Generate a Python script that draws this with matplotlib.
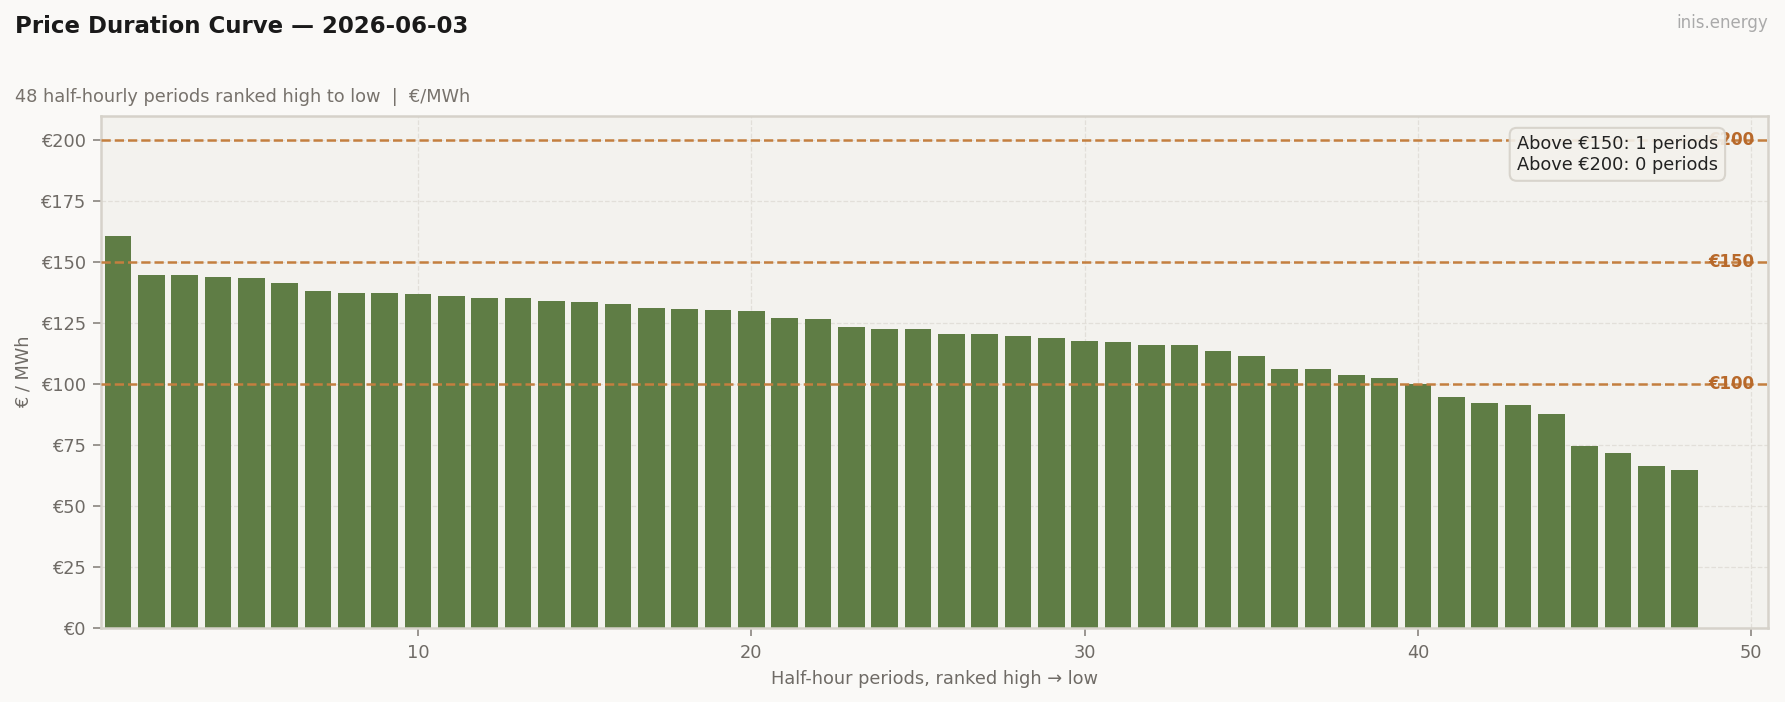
import matplotlib
matplotlib.use('Agg')
import numpy as np
import matplotlib.pyplot as plt
import matplotlib.transforms as mtransforms
from matplotlib.ticker import FuncFormatter, MultipleLocator

# half-hourly prices, ranked high -> low (EUR/MWh)
prices = [160.9, 144.7, 144.7, 143.9, 143.5, 141.4, 138.1, 137.3, 137.3, 136.9,
          136.1, 135.3, 135.3, 134.0, 133.6, 132.8, 131.2, 130.7, 130.3, 129.9,
          127.4, 126.6, 123.7, 122.9, 122.5, 120.8, 120.8, 120.0, 119.2, 117.9,
          117.5, 116.3, 116.3, 113.8, 111.8, 106.4, 106.4, 104.0, 102.7, 100.1,
          95.0, 92.5, 91.7, 88.0, 74.9, 72.0, 66.7, 65.1]
thresholds = [100, 150, 200]
rank = np.arange(1, len(prices) + 1)

fig = plt.figure(figsize=(11.9, 4.68), dpi=150, facecolor='#faf9f7')
ax = fig.add_axes([0.0568, 0.1048, 0.9337, 0.7300])
ax.set_facecolor('#f3f2ee')
ax.set_axisbelow(True)

ax.bar(rank, prices, width=0.8, color='#5f7d45', zorder=2)

trans = mtransforms.blended_transform_factory(ax.transAxes, ax.transData)
for t in thresholds:
    ax.axhline(t, color='#c47f3f', lw=1.2, ls='--', zorder=3)
    ax.text(0.992, t, f'€{t}', transform=trans, ha='right', va='center',
            fontsize=8, fontweight='bold', color='#b8692a', zorder=3)

above150 = sum(p > 150 for p in prices)
above200 = sum(p > 200 for p in prices)
ax.text(0.97, 0.963, f'Above €150: {above150} periods\nAbove €200: {above200} periods',
        transform=ax.transAxes, ha='right', va='top', multialignment='left',
        fontsize=8.5, color='#222222', zorder=5,
        bbox=dict(boxstyle='round,pad=0.4', fc='#f3f1ec', ec='#d5d1c9', alpha=0.9))

ax.set_xlim(0.5, 50.5)
ax.set_ylim(0, 210)
ax.yaxis.set_major_locator(MultipleLocator(25))
ax.xaxis.set_major_locator(MultipleLocator(10))
ax.yaxis.set_major_formatter(FuncFormatter(lambda v, p: f'€{v:.0f}'))
ax.grid(True, ls='--', color='#e2dfd9', lw=0.6)
for s in ax.spines.values():
    s.set_color('#d6d2ca')
    s.set_linewidth(1.2)
ax.tick_params(colors='#8a8580', labelcolor='#6f6b66', labelsize=8.5, length=4)

ax.set_xlabel('Half-hour periods, ranked high → low', fontsize=8.5, color='#6f6b66')
ax.set_ylabel('€ / MWh', fontsize=8.5, color='#6f6b66')

fig.text(0.0083, 0.9526, 'Price Duration Curve — 2026-06-03', fontsize=11,
         fontweight='bold', color='#1a1a1a', va='baseline')
fig.text(0.0083, 0.855, '48 half-hourly periods ranked high to low  |  €/MWh',
         fontsize=8.5, color='#77726c', va='baseline')
fig.text(0.9905, 0.9606, 'inis.energy', fontsize=8, color='#aaaaaa',
         ha='right', va='baseline')

fig.savefig('out.png', dpi=150, facecolor=fig.get_facecolor())
